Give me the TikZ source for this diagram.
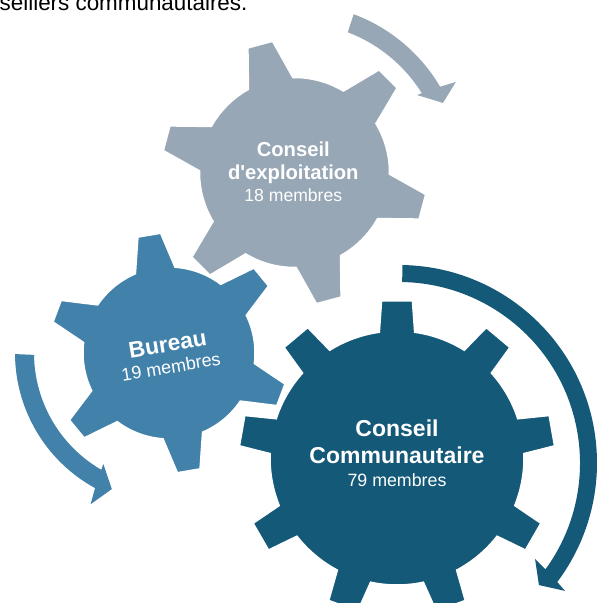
\documentclass[tikz,border=0pt]{standalone}
\usepackage{fontspec}
\setmainfont{Liberation Sans}
\definecolor{cgray}{RGB}{151,167,182}
\definecolor{cblue}{RGB}{66,129,170}
\definecolor{cdark}{RGB}{20,89,120}
\newcommand\drawgear[8]{%
  \pgfmathsetmacro\gstep{360/#3}%
  \filldraw[#1, draw=white, line width=1.5pt, line join=miter, shift={#2}] ({#6-#8}:#5)
    \foreach \k in {1,...,#3}{
      -- ({#6+(\k-1)*\gstep-#7}:#4) -- ({#6+(\k-1)*\gstep+#7}:#4) -- ({#6+(\k-1)*\gstep+#8}:#5)
      arc[start angle={#6+(\k-1)*\gstep+#8}, end angle={#6+\k*\gstep-#8}, radius=#5]
    } -- cycle;
}
\begin{document}
\begin{tikzpicture}[x=1pt,y=1pt,
  gtxt/.style={text=white, inner sep=0pt, anchor=base},
  bigb/.style={font=\bfseries\fontsize{#1}{#1}\selectfont},
  reg/.style={font=\fontsize{#1}{#1}\selectfont}]
\useasboundingbox (0,0) rectangle (597,603);
% arrows
\fill[cgray, shift={(294.5,430.5)}] (69.5:169) arc[start angle=69.5, end angle=30.5, radius=169]
  -- (29.3:185) -- (25.1:164) -- (32.3:145) -- (31.9:150)
  arc[start angle=31.9, end angle=69.2, radius=150] -- cycle;
\fill[cblue, shift={(169,250)}] (180.4:154) arc[start angle=180.4, end angle=241.3, radius=154]
  -- (242.6:170.4) -- (247.2:147.6) -- (239.4:129) -- (239.9:135)
  arc[start angle=239.9, end angle=180.8, radius=135] -- cycle;
\fill[cdark, shift={(399,140)}] (89:198) arc[start angle=89, end angle=-36.95, radius=198]
  -- (-37.6:209.6) -- (-41.1:185.7) -- (-35.2:166.5) -- (-36.0:181)
  arc[start angle=-36.0, end angle=89, radius=181] -- cycle;
% gears
\drawgear{cgray}{(294.5,430.5)}{6}{133}{95}{105}{5.5}{14}
\drawgear{cblue}{(169,250)}{6}{120}{86}{99.5}{5.5}{13.5}
\drawgear{cdark}{(397,145)}{9}{158}{127}{90}{5.6}{8}
% texts
\node[gtxt, bigb=20.2] (g1) at (293.3,446.3) {Conseil};
\node[gtxt, bigb=20.2] (g2) at (293.3,423.7) {d\textquotesingle exploitation};
\node[gtxt, reg=17.6] (g3) at (293.3,401.5) {18 membres};
\node[gtxt, bigb=22.8, anchor=center, rotate=9.5] (b1) at (167.7,258.7) {Bureau};
\node[gtxt, reg=18, anchor=center, rotate=9.5] (b2) at (171,236.3) {19 membres};
\node[gtxt, bigb=23] (d1) at (397,166.3) {Conseil};
\node[gtxt, bigb=23] (d2) at (397,139.7) {Communautaire};
\node[gtxt, reg=17.8] (d3) at (397,116.3) {79 membres};
\node[inner sep=0pt, anchor=base west, text=black, reg=22.4] (top) at (-0.5,592.5) {seillers communautaires.};
\end{tikzpicture}
\end{document}
